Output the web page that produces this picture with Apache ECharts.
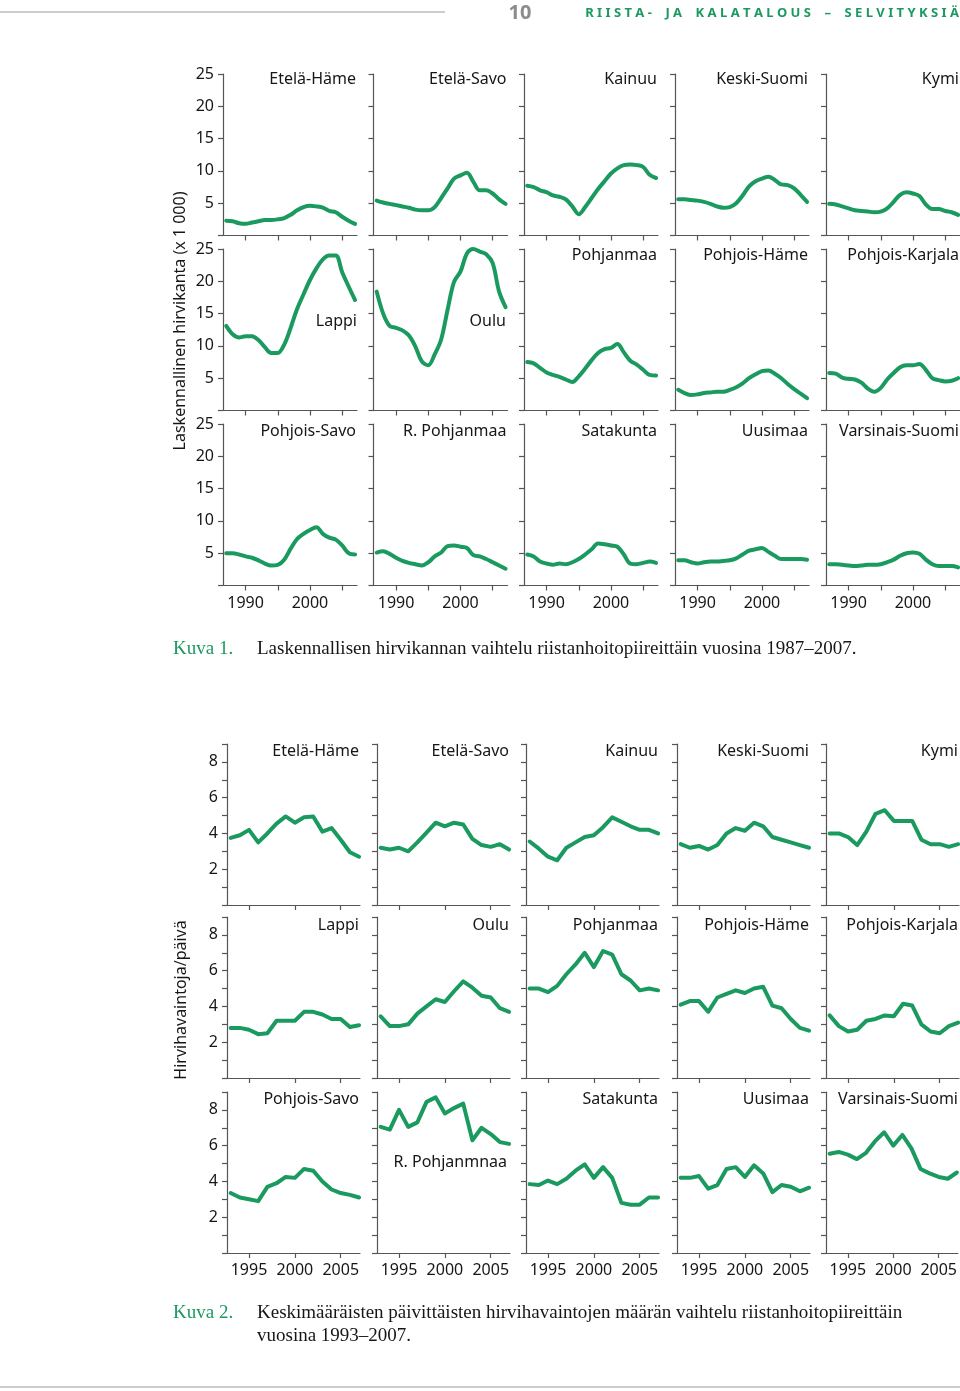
<!DOCTYPE html>
<html><head><meta charset="utf-8">
<script src="https://cdn.jsdelivr.net/npm/echarts@6/dist/echarts.min.js"></script>
<style>html,body{margin:0;padding:0;background:#fff}#c{width:960px;height:1391px}</style>
</head><body><div id="c"></div>
<script>
// ---------- DATA ----------
const years1 = [1987,1988,1989,1990,1991,1992,1993,1994,1995,1996,1997,1998,1999,2000,2001,2002,2003,2004,2005,2006,2007];
const years2 = [1993,1994,1995,1996,1997,1998,1999,2000,2001,2002,2003,2004,2005,2006,2007];

const regions1 = ['Etelä-Häme','Etelä-Savo','Kainuu','Keski-Suomi','Kymi','Lappi','Oulu','Pohjanmaa','Pohjois-Häme','Pohjois-Karjala','Pohjois-Savo','R. Pohjanmaa','Satakunta','Uusimaa','Varsinais-Suomi'];
const regions2 = ['Etelä-Häme','Etelä-Savo','Kainuu','Keski-Suomi','Kymi','Lappi','Oulu','Pohjanmaa','Pohjois-Häme','Pohjois-Karjala','Pohjois-Savo','R. Pohjanmnaa','Satakunta','Uusimaa','Varsinais-Suomi'];

// Kuva 1: laskennallinen hirvikanta (x 1000), 1987-2007
const k1EtelaHame      = [2.3,2.2,1.9,1.8,2.0,2.2,2.4,2.4,2.5,2.7,3.2,3.9,4.4,4.6,4.5,4.3,3.8,3.6,2.9,2.3,1.8];
const k1EtelaSavo      = [5.4,5.1,4.9,4.7,4.5,4.3,4.0,3.9,3.9,4.4,5.8,7.3,8.8,9.3,9.7,8.3,7.0,7.0,6.5,5.6,4.9];
const k1Kainuu         = [7.7,7.5,7.0,6.7,6.2,6.0,5.6,4.5,3.3,4.4,5.8,7.2,8.4,9.6,10.4,10.9,11.0,10.9,10.6,9.4,8.9];
const k1KeskiSuomi     = [5.6,5.6,5.5,5.4,5.2,4.9,4.5,4.3,4.4,5.0,6.2,7.6,8.4,8.8,9.1,8.6,7.9,7.8,7.3,6.3,5.2];
const k1Kymi           = [4.9,4.8,4.5,4.2,3.9,3.8,3.7,3.6,3.7,4.2,5.2,6.3,6.7,6.5,6.1,4.8,4.1,4.1,3.8,3.6,3.2];
const k1Lappi          = [13.1,11.8,11.3,11.5,11.5,10.9,9.8,8.9,8.9,10.2,12.8,15.7,18.0,20.2,22.0,23.4,24.0,24.0,21.4,19.2,17.1];
const k1Oulu           = [18.4,15.0,13.1,12.8,12.4,11.6,9.9,7.6,7.0,8.7,11.0,15.6,19.9,21.5,24.3,25.0,24.6,24.2,22.8,18.4,16.0];
const k1Pohjanmaa      = [7.5,7.3,6.6,5.9,5.5,5.2,4.8,4.4,5.3,6.5,7.8,8.9,9.5,9.7,10.3,9.0,7.7,7.1,6.3,5.5,5.4];
const k1PohjoisHame    = [3.2,2.7,2.4,2.5,2.7,2.8,2.9,2.9,3.2,3.6,4.2,5.0,5.6,6.1,6.2,5.7,5.0,4.1,3.3,2.6,1.9];
const k1PohjoisKarjala = [5.8,5.7,5.1,4.9,4.8,4.3,3.4,2.9,3.5,4.8,5.8,6.7,7.0,7.0,7.2,6.3,5.0,4.7,4.5,4.6,5.0];
const k1PohjoisSavo    = [5.0,5.0,4.8,4.5,4.3,3.9,3.4,3.1,3.2,4.0,5.7,7.2,8.0,8.6,9.0,8.0,7.4,7.1,6.2,5.0,4.8];
const k1RPohjanmaa     = [5.1,5.3,4.9,4.3,3.8,3.5,3.3,3.1,3.6,4.5,5.1,6.1,6.2,6.0,5.8,4.7,4.5,4.1,3.6,3.1,2.6];
const k1Satakunta      = [4.8,4.5,3.7,3.4,3.2,3.4,3.3,3.6,4.1,4.8,5.6,6.5,6.4,6.2,6.0,4.8,3.4,3.3,3.5,3.7,3.5];
const k1Uusimaa        = [3.9,3.9,3.6,3.4,3.6,3.7,3.7,3.8,3.9,4.2,4.8,5.4,5.6,5.8,5.2,4.6,4.1,4.1,4.1,4.1,4.0];
const k1VarsinaisSuomi = [3.3,3.3,3.2,3.1,3.0,3.1,3.2,3.2,3.3,3.6,4.0,4.6,5.0,5.1,4.9,4.0,3.3,3.0,3.0,3.0,2.8];

// Kuva 2: hirvihavaintoja / päivä, 1993-2007
const k2EtelaHame      = [3.75,3.9,4.2,3.5,4.0,4.55,4.95,4.6,4.9,4.95,4.1,4.3,3.65,2.95,2.7];
const k2EtelaSavo      = [3.2,3.1,3.2,3.0,3.5,4.05,4.6,4.4,4.6,4.5,3.7,3.35,3.25,3.4,3.1];
const k2Kainuu         = [3.55,3.15,2.7,2.5,3.2,3.5,3.8,3.9,4.35,4.9,4.65,4.4,4.2,4.2,4.0];
const k2KeskiSuomi     = [3.4,3.2,3.3,3.1,3.35,4.0,4.3,4.15,4.6,4.4,3.8,3.65,3.5,3.35,3.2];
const k2Kymi           = [4.0,4.0,3.8,3.35,4.1,5.1,5.3,4.7,4.7,4.7,3.65,3.4,3.4,3.25,3.4];
const k2Lappi          = [2.8,2.8,2.7,2.45,2.5,3.2,3.2,3.2,3.7,3.7,3.55,3.3,3.3,2.85,2.95];
const k2Oulu           = [3.45,2.9,2.9,3.0,3.6,4.0,4.4,4.25,4.85,5.4,5.05,4.6,4.5,3.9,3.7];
const k2Pohjanmaa      = [5.0,5.0,4.8,5.15,5.8,6.35,7.0,6.2,7.1,6.9,5.8,5.45,4.9,5.0,4.9];
const k2PohjoisHame    = [4.1,4.3,4.3,3.7,4.5,4.7,4.9,4.75,5.0,5.1,4.05,3.9,3.3,2.8,2.65];
const k2PohjoisKarjala = [3.5,2.9,2.6,2.7,3.2,3.3,3.5,3.45,4.15,4.05,3.0,2.6,2.5,2.9,3.1];
const k2PohjoisSavo    = [3.35,3.1,3.0,2.9,3.7,3.9,4.25,4.2,4.7,4.6,4.0,3.55,3.35,3.25,3.1];
const k2RPohjanmaa     = [7.05,6.9,8.0,7.05,7.3,8.45,8.7,7.8,8.1,8.35,6.3,7.0,6.65,6.2,6.1];
const k2Satakunta      = [3.85,3.8,4.05,3.85,4.15,4.6,4.95,4.2,4.8,4.2,2.8,2.7,2.7,3.1,3.1];
const k2Uusimaa        = [4.2,4.2,4.3,3.6,3.8,4.7,4.8,4.25,4.9,4.45,3.4,3.8,3.7,3.45,3.65];
const k2VarsinaisSuomi = [5.55,5.65,5.5,5.25,5.6,6.25,6.75,6.0,6.6,5.85,4.7,4.45,4.25,4.15,4.5];

const xTicks1 = [1990,1995,2000,2005];
const xLabels1 = [1990,2000];
const xTicks2 = [1995,2000,2005];
const xLabels2 = [1995,2000,2005];
const yMax1 = 25, yStep1 = 5;
const yMax2 = 9, yStep2 = 1;

const yName1 = 'Laskennallinen hirvikanta (x 1 000)';
const yName2 = 'Hirvihavaintoja/päivä';
const caption1Label = 'Kuva 1.';
const caption1Text = 'Laskennallisen hirvikannan vaihtelu riistanhoitopiireittäin vuosina 1987–2007.';
const caption2Label = 'Kuva 2.';
const caption2Lines = ['Keskimääräisten päivittäisten hirvihavaintojen määrän vaihtelu riistanhoitopiireittäin','vuosina 1993–2007.'];
const headerPage = '10';
const headerTitle = 'RIISTA- JA KALATALOUS – SELVITYKSIÄ';

const fig1Series = [k1EtelaHame,k1EtelaSavo,k1Kainuu,k1KeskiSuomi,k1Kymi,k1Lappi,k1Oulu,k1Pohjanmaa,k1PohjoisHame,k1PohjoisKarjala,k1PohjoisSavo,k1RPohjanmaa,k1Satakunta,k1Uusimaa,k1VarsinaisSuomi];
const fig2Series = [k2EtelaHame,k2EtelaSavo,k2Kainuu,k2KeskiSuomi,k2Kymi,k2Lappi,k2Oulu,k2Pohjanmaa,k2PohjoisHame,k2PohjoisKarjala,k2PohjoisSavo,k2RPohjanmaa,k2Satakunta,k2Uusimaa,k2VarsinaisSuomi];

// ---------- LAYOUT ----------
const GREEN = '#1b9a5f';
const AXIS = '#555555';
const TEXT = '#161616';
const SANS = '"Noto Sans", "Open Sans", sans-serif';
const SERIF = '"Liberation Serif", "DejaVu Serif", serif';

const fig1 = { lefts:[223,373.5,524,675,826], tops:[74,249,424], w:134, h:161.5, xmin:1986.5, xmax:2007.3 };
const fig2 = { lefts:[227,377,526,677,826], tops:[744,917,1092], w:133, h:161, xmin:1992.6, xmax:2007.1 };

const grid = [], xAxis = [], yAxis = [], series = [], graphic = [];

function addFigure(fig, years, data, names, xTicks, xLabels, yMax, yStep, yLabelFn, smooth, titleY, special, xMargin) {
  for (let i = 0; i < 15; i++) {
    const r = Math.floor(i / 5), c = i % 5;
    const gi = grid.length;
    grid.push({ left: fig.lefts[c], top: fig.tops[r], width: fig.w, height: fig.h, containLabel: false });
    xAxis.push({
      type: 'value', gridIndex: gi, min: fig.xmin, max: fig.xmax,
      axisLine: { show: true, lineStyle: { color: AXIS, width: 1.2 } },
      axisTick: { show: true, length: 5, lineStyle: { color: AXIS, width: 1.2 }, customValues: xTicks },
      axisLabel: { show: r === 2, customValues: xLabels, formatter: v => String(Math.round(v)), margin: xMargin, fontSize: 16, color: TEXT, fontFamily: SANS },
      splitLine: { show: false }
    });
    yAxis.push({
      type: 'value', gridIndex: gi, min: 0, max: yMax, interval: yStep,
      axisLine: { show: true, lineStyle: { color: AXIS, width: 1.2 } },
      axisTick: { show: true, length: 5, lineStyle: { color: AXIS, width: 1.2 } },
      axisLabel: { show: c === 0, formatter: yLabelFn, margin: 9, fontSize: 16, color: TEXT, fontFamily: SANS },
      splitLine: { show: false }
    });
    series.push({
      type: 'line', xAxisIndex: gi, yAxisIndex: gi,
      data: years.map((y, k) => [y, data[i][k]]),
      smooth: smooth, showSymbol: false, silent: true,
      lineStyle: { color: GREEN, width: 4, cap: 'round', join: 'round' }
    });
    const sp = special[names[i]];
    graphic.push({
      type: 'text', silent: true,
      x: sp ? sp[0] : fig.lefts[c] + fig.w - 1,
      y: sp ? sp[1] : titleY[r],
      style: { text: names[i], fill: TEXT, font: '16px ' + SANS, textAlign: 'right', textVerticalAlign: 'middle' }
    });
  }
}

addFigure(fig1, years1, fig1Series, regions1, xTicks1, xLabels1, yMax1, yStep1,
  v => (v > 0 ? String(v) : ''), 0.35, [79, 255, 431],
  { 'Lappi': [357, 321], 'Oulu': [506, 321] }, 10);

addFigure(fig2, years2, fig2Series, regions2, xTicks2, xLabels2, yMax2, yStep2,
  v => (v > 0 && v % 2 === 0 && v < 9 ? String(v) : ''), false, [751, 925, 1099],
  { 'R. Pohjanmnaa': [507, 1162] }, 9);

// axis names
graphic.push({ type: 'text', silent: true, x: 180, y: 321, rotation: Math.PI / 2,
  style: { text: yName1, fill: TEXT, font: '16px ' + SANS, textAlign: 'center', textVerticalAlign: 'middle' } });
graphic.push({ type: 'text', silent: true, x: 181, y: 1000, rotation: Math.PI / 2,
  style: { text: yName2, fill: TEXT, font: '16px ' + SANS, textAlign: 'center', textVerticalAlign: 'middle' } });

// header
graphic.push({ type: 'line', silent: true, shape: { x1: 0, y1: 12, x2: 445, y2: 12 }, style: { stroke: '#9a9a9a', lineWidth: 1 } });
graphic.push({ type: 'text', silent: true, x: 520, y: 13,
  style: { text: headerPage, fill: '#8c8c8c', font: 'bold 20px ' + SANS, textAlign: 'center', textVerticalAlign: 'middle' } });
graphic.push({ type: 'text', silent: true, x: 959, y: 13,
  style: { text: headerTitle.split('').join(' ').replace(/   /g, '    '), fill: GREEN, font: 'bold 13px ' + SANS, textAlign: 'right', textVerticalAlign: 'middle' } });

// captions
graphic.push({ type: 'text', silent: true, x: 173, y: 649,
  style: { text: caption1Label, fill: GREEN, font: '19px ' + SERIF, textVerticalAlign: 'middle' } });
graphic.push({ type: 'text', silent: true, x: 257, y: 649,
  style: { text: caption1Text, fill: TEXT, font: '19px ' + SERIF, textVerticalAlign: 'middle' } });
graphic.push({ type: 'text', silent: true, x: 173, y: 1313,
  style: { text: caption2Label, fill: GREEN, font: '19px ' + SERIF, textVerticalAlign: 'middle' } });
caption2Lines.forEach((t, k) => graphic.push({ type: 'text', silent: true, x: 257, y: 1313 + k * 23,
  style: { text: t, fill: TEXT, font: '19px ' + SERIF, textVerticalAlign: 'middle' } }));

// footer rule
graphic.push({ type: 'line', silent: true, shape: { x1: 0, y1: 1387, x2: 960, y2: 1387 }, style: { stroke: '#9a9a9a', lineWidth: 1 } });

const chart = echarts.init(document.getElementById('c'), null, { renderer: 'canvas', width: 960, height: 1391 });
chart.setOption({ backgroundColor: '#ffffff', animation: false, grid, xAxis, yAxis, series, graphic });
</script>
</body></html>
